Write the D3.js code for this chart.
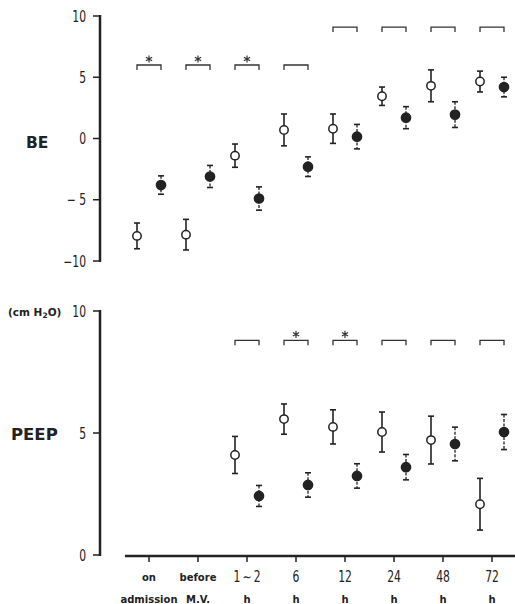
<!doctype html>
<html>
<head>
<meta charset="UTF-8" />
<title>BE and PEEP</title>
<script src="https://d3js.org/d3.v7.min.js"></script>
<style type="text/css">
body {
	margin: 0;
	background: #fff;
}
.num {
	font-family: "DejaVu Sans", sans-serif;
	font-size: 15px;
	fill: #222;
}
.lab {
	font-family: "DejaVu Sans", sans-serif;
	font-weight: bold;
	fill: #222;
}
.star {
	stroke: #333;
	stroke-width: 1.2px;
	fill: none;
}
.axisline {
	stroke: #222;
	stroke-width: 2.5px;
	fill: none;
}
.tick {
	stroke: #222;
	stroke-width: 1.5px;
}
.bracket {
	fill: none;
	stroke: #333;
	stroke-width: 1.3px;
}
</style>
</head>
<body>
<script>
	// categories (time points)
	var categories = ["on admission", "before M.V.", "1~2 h", "6 h", "12 h", "24 h", "48 h", "72 h"];
	var catLine1 = ["on", "before", "1\u2009\u223C\u20092", "6", "12", "24", "48", "72"];
	var catLine2 = ["admission", "M.V.", "h", "h", "h", "h", "h", "h"];

	// BE (open = group 1, filled = group 2), mean and SD
	var beOpen      = [-7.95, -7.85, -1.4, 0.7, 0.8, 3.45, 4.3, 4.65];
	var beOpenErr   = [1.05, 1.25, 0.95, 1.3, 1.2, 0.75, 1.3, 0.85];
	var beFilled    = [-3.8, -3.1, -4.9, -2.3, 0.15, 1.7, 1.95, 4.2];
	var beFilledErr = [0.75, 0.9, 0.95, 0.8, 1.0, 0.9, 1.05, 0.8];
	var beBracket   = [6.0, 6.0, 6.0, 6.0, 9.1, 9.1, 9.1, 9.1];
	var beStar      = [true, true, true, false, false, false, false, false];

	// PEEP (cm H2O)
	var peepOpen      = [null, null, 4.1, 5.57, 5.25, 5.04, 4.71, 2.08];
	var peepOpenErr   = [null, null, 0.76, 0.62, 0.7, 0.82, 0.98, 1.06];
	var peepFilled    = [null, null, 2.42, 2.87, 3.24, 3.6, 4.55, 5.04];
	var peepFilledErr = [null, null, 0.43, 0.5, 0.5, 0.52, 0.69, 0.72];
	var peepBracket   = [null, null, 8.8, 8.8, 8.8, 8.8, 8.8, 8.8];
	var peepStar      = [false, false, false, true, true, false, false, false];

	var beTicks = [10, 5, 0, -5, -10];
	var beTickLabels = ["10", "5", "0", "\u2212 5", "\u221210"];
	var peepTicks = [10, 5, 0];
	var peepTickLabels = ["10", "5", "0"];

	var width = 515, height = 604;
	var axisX = 100, dx = 12;

	var svg = d3.select("body").append("svg")
		.attr("width", width)
		.attr("height", height);

	var x = d3.scalePoint()
		.domain(categories)
		.range([149, 492]);

	var yBE = d3.scaleLinear().domain([-10, 10]).range([261, 16]);
	var yPEEP = d3.scaleLinear().domain([0, 10]).range([555, 311]);

	// condensed numerals like the typeset figure
	function numText(g, px, py, anchor, str) {
		return g.append("text")
			.attr("class", "num")
			.attr("transform", "translate(" + px + "," + py + ") scale(0.72,1)")
			.attr("text-anchor", anchor)
			.text(str);
	}

	// significance mark: six-armed asterisk
	function star(g, cx, cy) {
		var r = 3.6, d = "";
		[90, 30, 150].forEach(function(a) {
			var rad = a * Math.PI / 180,
				ex = r * Math.cos(rad), ey = r * Math.sin(rad);
			d += "M" + (cx - ex) + "," + (cy - ey) + "L" + (cx + ex) + "," + (cy + ey);
		});
		g.append("path").attr("class", "star").attr("d", d);
	}

	function drawPanel(y, ticks, tickLabels, open, openErr, filled, filledErr, bracket, stars) {
		var g = svg.append("g");

		g.append("line")
			.attr("class", "axisline")
			.attr("x1", axisX).attr("x2", axisX)
			.attr("y1", y(ticks[0]) - 1).attr("y2", y(ticks[ticks.length - 1]) + 1);

		ticks.forEach(function(t, i) {
			g.append("line")
				.attr("class", "tick")
				.attr("x1", axisX - 7).attr("x2", axisX)
				.attr("y1", y(t)).attr("y2", y(t));
			numText(g, 86, y(t) + 5.5, "end", tickLabels[i]);
		});

		// brackets and stars
		categories.forEach(function(c, i) {
			if (bracket[i] == null) return;
			var x0 = x(c) - dx, x1 = x(c) + dx, yb = y(bracket[i]);
			g.append("path")
				.attr("class", "bracket")
				.attr("d", "M" + x0 + "," + (yb + 5) + "V" + yb + "H" + x1 + "V" + (yb + 5));
			if (stars[i]) star(g, x(c), yb - 6);
		});

		function drawSeries(vals, errs, off, isFilled) {
			categories.forEach(function(c, i) {
				if (vals[i] == null) return;
				var cx = x(c) + off;
				var top = y(vals[i] + errs[i]), bot = y(vals[i] - errs[i]);
				g.append("line")
					.attr("x1", cx).attr("x2", cx)
					.attr("y1", top).attr("y2", bot)
					.attr("stroke", "#222")
					.attr("stroke-width", isFilled ? 1.3 : 1.6)
					.attr("stroke-dasharray", isFilled ? "3,1.5" : null);
				[top, bot].forEach(function(yy) {
					g.append("line")
						.attr("x1", cx - 3).attr("x2", cx + 3)
						.attr("y1", yy).attr("y2", yy)
						.attr("stroke", "#222")
						.attr("stroke-width", 1.6);
				});
				g.append("circle")
					.attr("cx", cx)
					.attr("cy", y(vals[i]))
					.attr("r", isFilled ? 4.6 : 4.2)
					.attr("fill", isFilled ? "#222" : "#fff")
					.attr("stroke", "#222")
					.attr("stroke-width", 1.5);
			});
		}

		drawSeries(open, openErr, -dx, false);
		drawSeries(filled, filledErr, dx, true);
		return g;
	}

	drawPanel(yBE, beTicks, beTickLabels, beOpen, beOpenErr, beFilled, beFilledErr, beBracket, beStar);
	drawPanel(yPEEP, peepTicks, peepTickLabels, peepOpen, peepOpenErr, peepFilled, peepFilledErr, peepBracket, peepStar);

	// panel labels
	svg.append("text").attr("class", "lab")
		.attr("x", 26).attr("y", 148)
		.style("font-size", "15.5px")
		.text("BE");
	svg.append("text").attr("class", "lab")
		.attr("x", 11).attr("y", 440)
		.style("font-size", "16.5px")
		.text("PEEP");
	var unit = svg.append("text").attr("class", "lab")
		.attr("x", 8).attr("y", 316)
		.style("font-size", "10.5px");
	unit.append("tspan").text("(cm H");
	unit.append("tspan").attr("dy", 2).style("font-size", "7.5px").text("2");
	unit.append("tspan").attr("dy", -2).text("O)");

	// x axis (bottom panel)
	svg.append("line")
		.attr("class", "axisline")
		.attr("x1", 125).attr("x2", 515)
		.attr("y1", yPEEP(0) + 1).attr("y2", yPEEP(0) + 1);

	var xAxis = svg.append("g");
	categories.forEach(function(c, i) {
		xAxis.append("line")
			.attr("class", "tick")
			.attr("x1", x(c)).attr("x2", x(c))
			.attr("y1", yPEEP(0) + 1).attr("y2", yPEEP(0) + 7);
		if (i >= 2) {
			numText(xAxis, x(c), 582, "middle", catLine1[i]);
		} else {
			xAxis.append("text")
				.attr("class", "lab")
				.attr("x", x(c))
				.attr("y", 581)
				.attr("text-anchor", "middle")
				.style("font-size", "10px")
				.text(catLine1[i]);
		}
		xAxis.append("text")
			.attr("class", "lab")
			.attr("x", x(c))
			.attr("y", 603)
			.attr("text-anchor", "middle")
			.style("font-size", "10px")
			.text(catLine2[i]);
	});
</script>
</body>
</html>
